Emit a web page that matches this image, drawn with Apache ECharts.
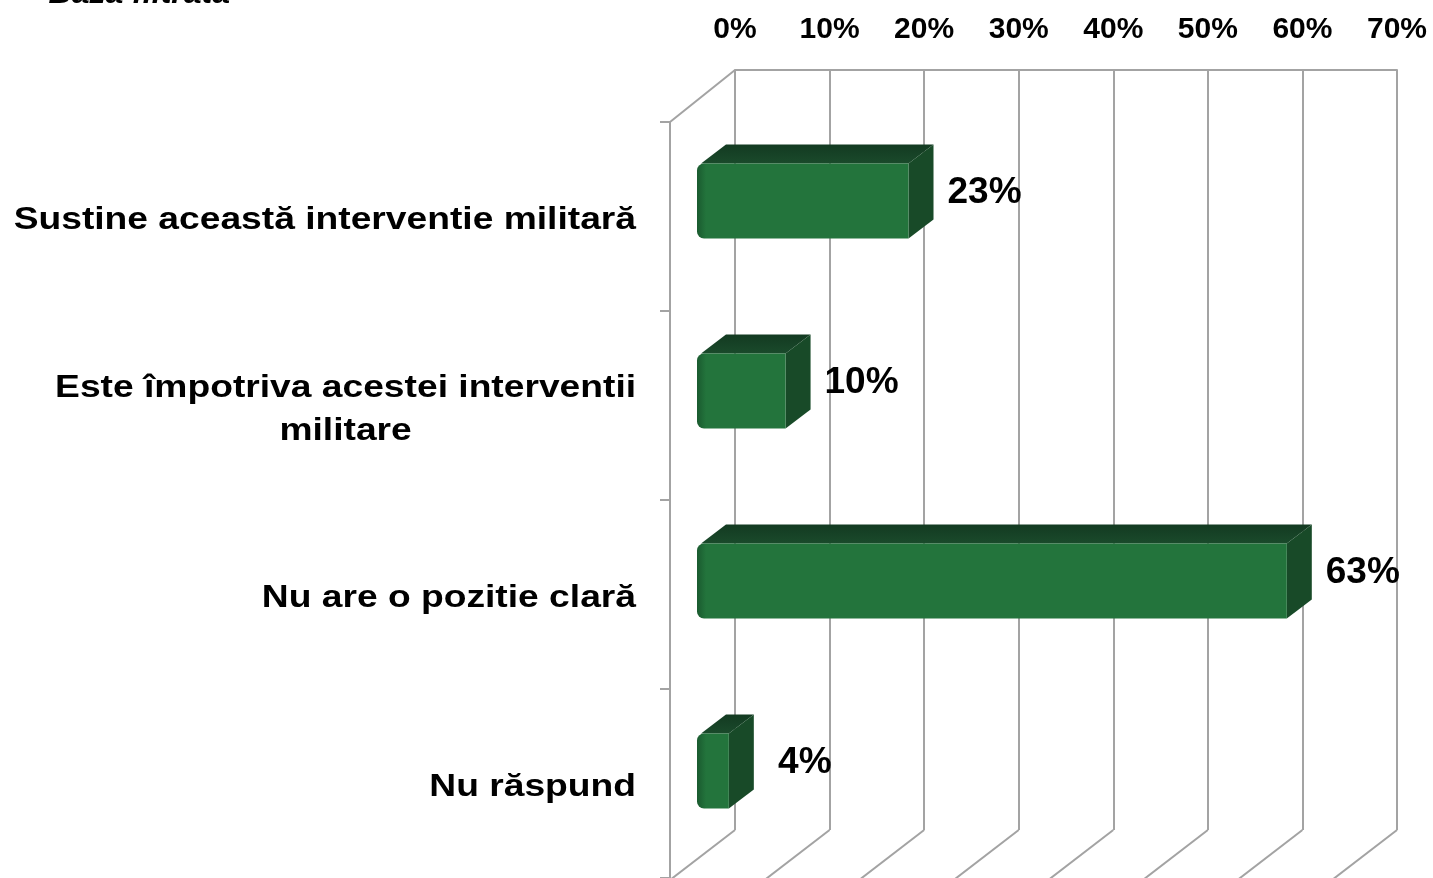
<!DOCTYPE html>
<html>
<head>
<meta charset="utf-8">
<script src="https://cdn.jsdelivr.net/npm/echarts@6/dist/echarts.min.js"></script>
<style>
  html, body { margin: 0; padding: 0; background: #fff; }
  #main { width: 1433px; height: 878px; }
</style>
</head>
<body>
<div id="main"></div>
<script>
// date din grafic
var categories = [
  "Sustine această interventie militară",
  "Este împotriva acestei interventii\nmilitare",
  "Nu are o pozitie clară",
  "Nu răspund"
];
var values = [23, 10, 63, 4];
var ticks = [0, 10, 20, 30, 40, 50, 60, 70];

var FONT = 'Arial, "Liberation Sans", sans-serif';
var GRID_COLOR = "#a3a3a3";
// adancimea peretelui (perspectiva)
var DEPTH_X = -65, DEPTH_Y = 50;

var myChart = echarts.init(document.getElementById("main"));

function renderBar(params, api) {
  var v = api.value(0);
  var cat = api.value(1);
  var p0 = api.coord([0, cat]);
  var p1 = api.coord([v, cat]);
  var bandH = api.size([0, 1])[1];
  var h = bandH * 0.395;
  var w = Math.max(p1[0] - p0[0] - 6, 4);
  var fx = p0[0] - 38;
  var fy = p0[1] + 36 - h / 2;
  var dx = 25, dy = -19;

  return {
    type: "group",
    children: [
      {
        type: "polygon",
        shape: { points: [[fx + 4, fy], [fx + w, fy], [fx + w + dx, fy + dy], [fx + dx + 4, fy + dy]] },
        style: {
          fill: {
            type: "linear", x: 0, y: fy + dy, x2: 0, y2: fy, global: true,
            colorStops: [{ offset: 0, color: "#133a21" }, { offset: 1, color: "#1a4a2b" }]
          }
        }
      },
      {
        type: "polygon",
        shape: { points: [[fx + w, fy], [fx + w + dx, fy + dy], [fx + w + dx, fy + h + dy], [fx + w, fy + h]] },
        style: { fill: "#184a28" }
      },
      {
        type: "rect",
        shape: { x: fx, y: fy, width: w, height: h, r: [7, 0, 0, 7] },
        style: {
          fill: {
            type: "linear", x: fx, y: 0, x2: fx + 9, y2: 0, global: true,
            colorStops: [{ offset: 0, color: "#1a5a2f" }, { offset: 1, color: "#23743c" }]
          }
        }
      },
      {
        type: "text",
        style: {
          text: v + "%",
          x: p1[0] + 32,
          y: p0[1] + 28,
          fill: "#000",
          font: "bold 37px " + FONT,
          verticalAlign: "middle",
          align: "center"
        }
      }
    ]
  };
}

function renderFloor(params, api) {
  var t = api.value(0);
  var cs = params.coordSys;
  var x = api.coord([t, 0])[0];
  var bottom = cs.y + cs.height;
  var children = [
    {
      type: "line",
      shape: { x1: x, y1: bottom, x2: x + DEPTH_X, y2: bottom + DEPTH_Y },
      style: { stroke: GRID_COLOR, lineWidth: 2 }
    }
  ];
  if (params.dataIndex === 0) {
    children.push({
      type: "line",
      shape: { x1: x, y1: cs.y, x2: x + DEPTH_X, y2: cs.y + 52 },
      style: { stroke: GRID_COLOR, lineWidth: 2 }
    });
  }
  return { type: "group", children: children };
}

// etichetele categoriilor, putin latite ca in original
function renderCatLabel(params, api) {
  var cat = api.value(1);
  var cs = params.coordSys;
  var y = api.coord([0, cat])[1];
  var text = categories[cat];
  var rich = text.indexOf("\n") >= 0
    ? text.split("\n").map(function (s) { return "{c|" + s + "}"; }).join("\n")
    : "{r|" + text + "}";
  return {
    type: "text",
    x: cs.x - 34,
    y: y + 4,
    scaleX: 1.2,
    style: {
      text: rich,
      x: 0,
      y: 0,
      align: "right",
      verticalAlign: "middle",
      rich: {
        c: { width: 484, align: "center", font: "bold 31px " + FONT, fill: "#000", lineHeight: 43 },
        r: { font: "bold 31px " + FONT, fill: "#000", lineHeight: 43 }
      }
    }
  };
}

myChart.setOption({
  animation: false,
  graphic: [
    {
      type: "text",
      x: 230,
      y: 10,
      style: {
        text: "Bază filtrată",
        font: "italic bold 32px " + FONT,
        fill: "#000",
        align: "right",
        verticalAlign: "bottom"
      }
    }
  ],
  grid: [
    { left: 735, right: 36, top: 70, bottom: 48 },
    { left: 670, width: 10, top: 122, bottom: 0 }
  ],
  xAxis: [
    {
      gridIndex: 0,
      type: "value",
      position: "top",
      min: 0,
      max: 70,
      interval: 10,
      axisLine: { show: true, lineStyle: { color: GRID_COLOR, width: 2 } },
      axisTick: { show: false },
      splitLine: { show: true, lineStyle: { color: GRID_COLOR, width: 2 } },
      axisLabel: {
        formatter: "{value}%",
        margin: 25,
        color: "#000",
        fontFamily: FONT,
        fontWeight: "bold",
        fontSize: 30
      }
    },
    { gridIndex: 1, type: "value", show: false, min: 0, max: 1 }
  ],
  yAxis: [
    {
      gridIndex: 0,
      type: "category",
      inverse: true,
      data: categories,
      show: false
    },
    {
      gridIndex: 1,
      type: "category",
      inverse: true,
      data: categories,
      axisLine: { show: true, lineStyle: { color: GRID_COLOR, width: 2 } },
      axisTick: { show: true, length: 10, lineStyle: { color: GRID_COLOR, width: 2 } },
      axisLabel: { show: false }
    }
  ],
  series: [
    {
      name: "floor",
      type: "custom",
      xAxisIndex: 0,
      yAxisIndex: 0,
      silent: true,
      renderItem: renderFloor,
      data: ticks.map(function (t) { return [t, 0]; }),
      encode: { x: 0, y: 1 }
    },
    {
      name: "labels",
      type: "custom",
      xAxisIndex: 1,
      yAxisIndex: 1,
      silent: true,
      renderItem: renderCatLabel,
      data: categories.map(function (c, i) { return [0, i]; }),
      encode: { x: 0, y: 1 }
    },
    {
      name: "bars",
      type: "custom",
      xAxisIndex: 0,
      yAxisIndex: 0,
      renderItem: renderBar,
      data: values.map(function (v, i) { return [v, i]; }),
      encode: { x: 0, y: 1 }
    }
  ]
});
</script>
</body>
</html>
